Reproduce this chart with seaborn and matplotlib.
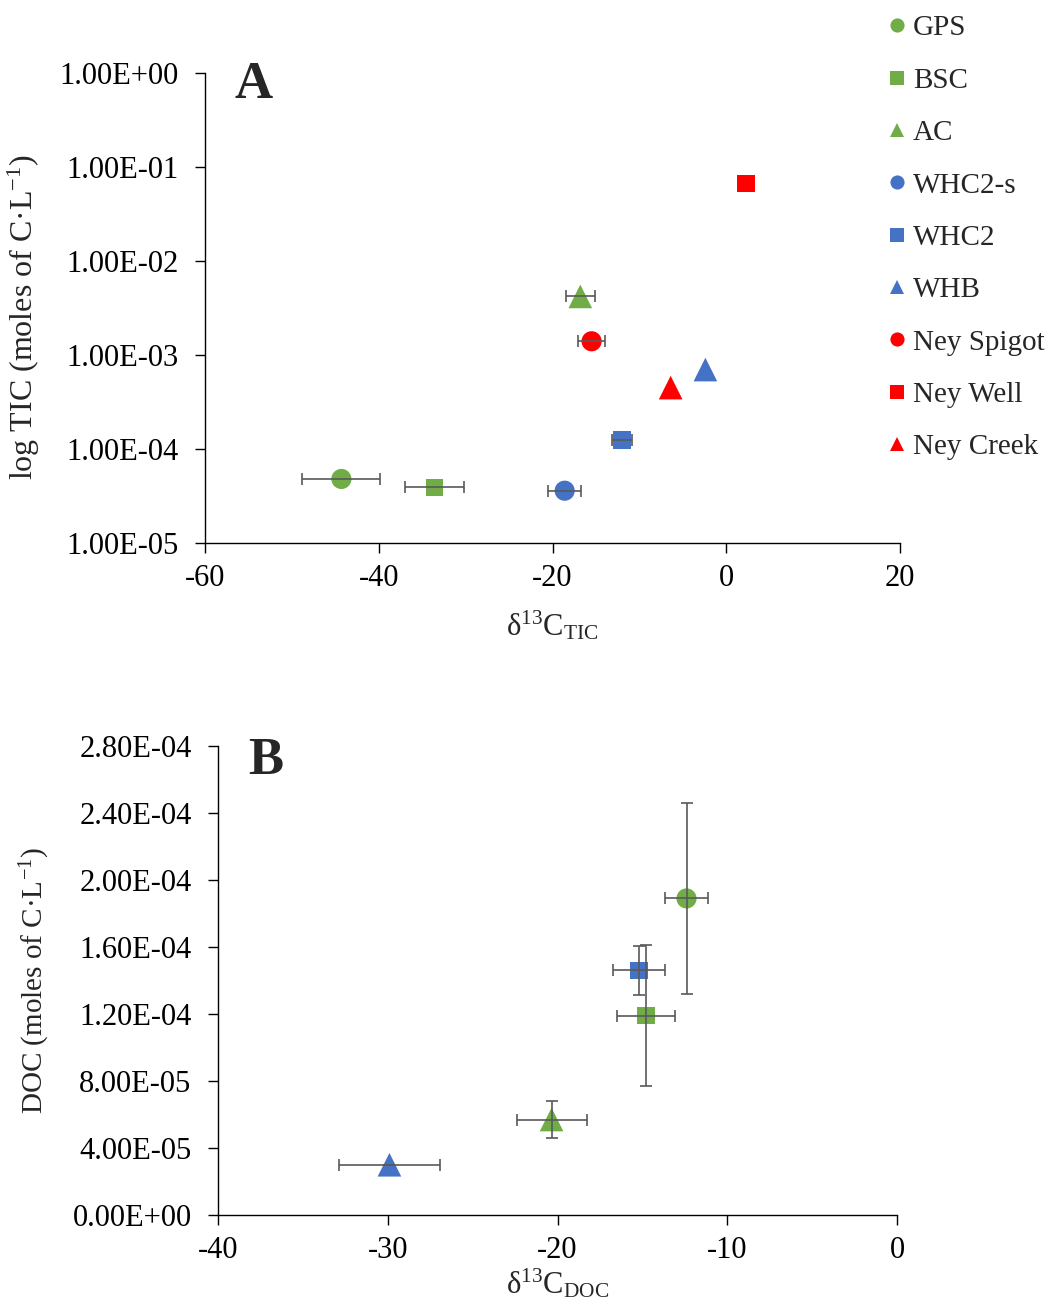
import numpy as np
import pandas as pd
import matplotlib
matplotlib.use("Agg")
import matplotlib.pyplot as plt
from matplotlib.ticker import FuncFormatter, FixedLocator, NullLocator
import seaborn as sns

# ---------------- data ----------------
samples_A = ["GPS", "BSC", "AC", "WHC2-s", "WHC2", "WHB", "Ney Spigot", "Ney Well", "Ney Creek"]
d13C_TIC = [-44.3, -33.6, -16.8, -18.6, -12.0, -2.4, -15.5, 2.3, -6.4]
d13C_TIC_err = [4.5, 3.4, 1.7, 1.9, 1.1, 0.0, 1.6, 0.0, 0.0]
TIC = [4.8e-5, 3.9e-5, 4.2e-3, 3.6e-5, 1.25e-4, 7.0e-4, 1.4e-3, 6.7e-2, 4.5e-4]

samples_B = ["GPS", "BSC", "AC", "WHC2", "WHB"]
d13C_DOC = [-12.4, -14.8, -20.35, -15.2, -29.9]
d13C_DOC_err = [1.24, 1.7, 2.06, 1.53, 3.0]
DOC = [1.89e-4, 1.19e-4, 5.7e-5, 1.46e-4, 3.0e-5]
DOC_err = [5.7e-5, 4.2e-5, 1.13e-5, 1.45e-5, 0.0]

A_yticks = [1e-5, 1e-4, 1e-3, 1e-2, 1e-1, 1e0]
A_xticks = [-60, -40, -20, 0, 20]
B_yticks = [0, 4e-5, 8e-5, 1.2e-4, 1.6e-4, 2.0e-4, 2.4e-4, 2.8e-4]
B_xticks = [-40, -30, -20, -10, 0]

# ---------------- styles ----------------
GREEN, BLUE, RED = "#70AD47", "#4472C4", "#FF0000"
palette = {"GPS": GREEN, "BSC": GREEN, "AC": GREEN,
           "WHC2-s": BLUE, "WHC2": BLUE, "WHB": BLUE,
           "Ney Spigot": RED, "Ney Well": RED, "Ney Creek": RED}
markers = {"GPS": "o", "BSC": "s", "AC": "^",
           "WHC2-s": "o", "WHC2": "s", "WHB": "^",
           "Ney Spigot": "o", "Ney Well": "s", "Ney Creek": "^"}
msize = {"o": 210, "s": 160, "^": 290}
ERR = "#595959"

sns.set_theme(style="white")
plt.rcParams["font.family"] = ["Liberation Serif", "DejaVu Serif"]
plt.rcParams["mathtext.fontset"] = "custom"
plt.rcParams["mathtext.rm"] = "Liberation Serif"
plt.rcParams["mathtext.it"] = "Liberation Serif:italic"
plt.rcParams["mathtext.bf"] = "Liberation Serif:bold"

FS = 22
LFS = 21
fig = plt.figure(figsize=(10.6, 13.12), dpi=100)
axA = fig.add_axes([205/1060, 1-543/1312, 695/1060, 470/1312])
axB = fig.add_axes([218/1060, 1-1215/1312, 679/1060, 469/1312])

dfA = pd.DataFrame({"sample": samples_A, "x": d13C_TIC, "y": TIC, "xerr": d13C_TIC_err})
dfB = pd.DataFrame({"sample": samples_B, "x": d13C_DOC, "y": DOC, "xerr": d13C_DOC_err, "yerr": DOC_err})


def style_axis(ax):
    for s in ["top", "right"]:
        ax.spines[s].set_visible(False)
    for s in ["left", "bottom"]:
        ax.spines[s].set_color("black")
        ax.spines[s].set_linewidth(1.0)
    ax.tick_params(axis="both", which="major", direction="out", length=7, width=1.0,
                   color="black", labelsize=FS, labelcolor="black", left=True, bottom=True)
    ax.tick_params(axis="y", pad=12)
    ax.tick_params(axis="x", pad=8)


# ---------------- panel A ----------------
sns.scatterplot(data=dfA, x="x", y="y", hue="sample", style="sample",
                palette=palette, markers=markers, hue_order=samples_A, style_order=samples_A,
                s=200, linewidth=0, ax=axA, zorder=2, legend="full")
axA.collections[0].set_sizes([msize[markers[s]] for s in dfA["sample"]])
eA = dfA[dfA["xerr"] > 0]
axA.errorbar(eA["x"], eA["y"], xerr=eA["xerr"], fmt="none", ecolor=ERR,
             elinewidth=1.2, capsize=4.5, capthick=1.2, zorder=3)
axA.set_yscale("log")
axA.set_ylim(1e-5, 1e0)
axA.set_xlim(-60, 20)
axA.yaxis.set_major_locator(FixedLocator(A_yticks))
axA.yaxis.set_minor_locator(NullLocator())
axA.yaxis.set_major_formatter(FuncFormatter(lambda v, p: f"{v:.2E}"))
axA.xaxis.set_major_locator(FixedLocator(A_xticks))
axA.xaxis.set_major_formatter(FuncFormatter(lambda v, p: f"{v:g}"))
style_axis(axA)
axA.set_xlabel("δ$^{13}$C$_{\\mathrm{TIC}}$", fontsize=FS)
axA.set_ylabel("log TIC (moles of C·L$^{-1}$)", fontsize=FS + 1)
axA.xaxis.set_label_coords(0.5, -0.14)
axA.yaxis.set_label_coords(-0.235, 0.48)
axA.text(0.07, 0.975, "A", transform=axA.transAxes, fontsize=38, fontweight="bold",
         ha="center", va="center")

leg = axA.get_legend()
handles = leg.legend_handles
labels = [t.get_text() for t in leg.get_texts()]
leg.remove()
fig.legend(handles, labels, loc="upper left", bbox_to_anchor=(881/1060, 1-15/1312),
           frameon=False, fontsize=LFS, markerscale=0.72, labelspacing=0.89,
           handletextpad=0.0, handlelength=1.1, borderaxespad=0, borderpad=0)

# ---------------- panel B ----------------
sns.scatterplot(data=dfB, x="x", y="y", hue="sample", style="sample",
                palette=palette, markers=markers, hue_order=samples_B, style_order=samples_B,
                s=200, linewidth=0, ax=axB, zorder=2, legend=False)
axB.collections[0].set_sizes([msize[markers[s]] for s in dfB["sample"]])
axB.errorbar(dfB["x"], dfB["y"], xerr=dfB["xerr"], yerr=dfB["yerr"], fmt="none",
             ecolor=ERR, elinewidth=1.2, capsize=4.5, capthick=1.2, zorder=3)
axB.set_ylim(0, 2.8e-4)
axB.set_xlim(-40, 0)
axB.yaxis.set_major_locator(FixedLocator(B_yticks))
axB.yaxis.set_major_formatter(FuncFormatter(lambda v, p: f"{v:.2E}"))
axB.xaxis.set_major_locator(FixedLocator(B_xticks))
axB.xaxis.set_major_formatter(FuncFormatter(lambda v, p: f"{v:g}"))
style_axis(axB)
axB.set_xlabel("δ$^{13}$C$_{\\mathrm{DOC}}$", fontsize=FS)
axB.set_ylabel("DOC (moles of C·L$^{-1}$)", fontsize=FS - 1)
axB.xaxis.set_label_coords(0.5, -0.11)
axB.yaxis.set_label_coords(-0.245, 0.5)
axB.text(0.07, 0.967, "B", transform=axB.transAxes, fontsize=38, fontweight="bold",
         ha="center", va="center")

fig.savefig("out.png", dpi=100, facecolor="white")
